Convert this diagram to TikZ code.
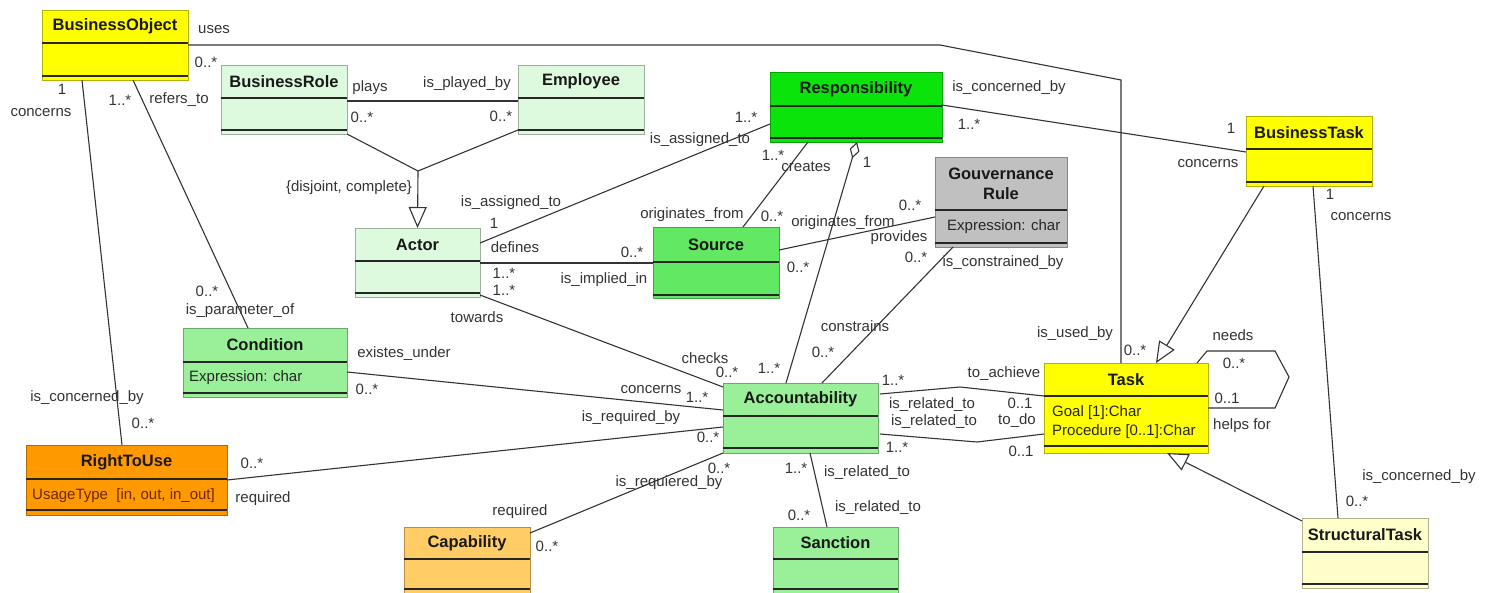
\documentclass[tikz,border=0pt]{standalone}
\usepackage{fontspec}
\setmainfont{Liberation Sans}
\usetikzlibrary{arrows.meta,calc}

\definecolor{clsyellow}{RGB}{255,255,0}
\definecolor{paleyellow}{RGB}{255,255,204}
\definecolor{palegreen}{RGB}{222,250,222}
\definecolor{midgreen}{RGB}{153,240,153}
\definecolor{srcgreen}{RGB}{98,232,98}
\definecolor{respgreen}{RGB}{10,228,10}
\definecolor{govgray}{RGB}{192,192,192}
\definecolor{rtuorange}{RGB}{255,153,0}
\definecolor{caporange}{RGB}{255,204,102}
\definecolor{rtutext}{RGB}{110,40,0}

% class box: name, colour, left, top, right, title line, attribute line, bottom, title
\newcommand{\umlclass}[9]{%
  \node[classbox,fill=#2,draw=#2!70!black,minimum width={#5-#3},minimum height={#8-#4}] (#1) at (#3,#4) {};
  \draw[cmpline] (#3,#6) -- (#5,#6) (#3,#7) -- (#5,#7);
  \node[clstitle] (#1-title) at ({(#3+#5)/2},{(#4+#6)/2}) {#9};}

\begin{document}
\begin{tikzpicture}[x=1pt,y=-1pt,
    classbox/.style={anchor=north west,inner sep=0pt,outer sep=0pt,line width=0.6pt},
    cmpline/.style={black!85,line width=1.2pt},
    clstitle/.style={inner sep=0pt,align=center,text=black!90,font=\fontsize{16.5}{20}\selectfont\bfseries},
    attr/.style={inner sep=0pt,anchor=west,align=left,text=black!85,font=\fontsize{15}{19}\selectfont},
    lbl/.style={inner sep=0pt,text=black!80,font=\fontsize{15}{18}\selectfont},
    assoc/.style={black!80,line width=1.1pt},
    inherit/.style={assoc,-{Triangle[length=21pt,width=18pt,fill=white]}},
    aggr/.style={assoc,-{Diamond[length=17pt,width=10pt,fill=white]}}]
  \useasboundingbox (0,0) rectangle (1491,592);

  % classes
  \umlclass{bo}{clsyellow}{42}{10}{188}{43}{76}{80}{BusinessObject}
  \umlclass{brole}{palegreen}{221}{65}{347}{98}{130}{134}{BusinessRole}
  \umlclass{emp}{palegreen}{518}{65}{644}{98}{130}{134}{Employee}
  \umlclass{resp}{respgreen}{770}{72}{942}{106}{138}{142}{Responsibility}
  \umlclass{gov}{govgray}{935}{157}{1067}{210}{243}{247}{Gouvernance\\Rule}
  \umlclass{actor}{palegreen}{355}{228}{480}{261}{293}{297}{Actor}
  \umlclass{src}{srcgreen}{653}{227}{779}{262}{295}{298}{Source}
  \umlclass{btask}{clsyellow}{1246}{116}{1372}{149}{182}{186}{BusinessTask}
  \umlclass{task}{clsyellow}{1044}{363}{1208}{396}{446}{453}{Task}
  \umlclass{cond}{midgreen}{183}{328}{347}{362}{393}{397}{Condition}
  \umlclass{acc}{midgreen}{723}{383}{878}{416}{448}{453}{Accountability}
  \umlclass{rtu}{rtuorange}{26}{445}{227}{479}{510}{515}{RightToUse}
  \umlclass{cap}{caporange}{404}{527}{530}{559}{589}{594}{Capability}
  \umlclass{san}{midgreen}{773}{527}{898}{559}{589}{594}{Sanction}
  \umlclass{stask}{paleyellow}{1302}{518}{1428}{552}{584}{588}{StructuralTask}

  % attributes
  \node[attr] (gov-attr) at (947,227) {Expression: char};
  \node[attr] (cond-attr) at (189,378) {Expression: char};
  \node[attr,text=rtutext] (rtu-attr) at (32,496) {UsageType\ \ [in, out, in\_out]};
  \node[attr] (task-attr) at (1052,422) {Goal [1]:Char\\Procedure [0..1]:Char};

  % associations
  \draw[assoc] ($(bo.north east)+(0,35)$) -- (940,45) -- (1121,80) -- ($(task.north west)+(77,0)$);
  \draw[assoc] ($(bo.south west)+(40,0)$) -- ($(rtu.north west)+(96,0)$);
  \draw[assoc] ($(bo.south west)+(91,0)$) -- ($(cond.north west)+(65,0)$);
  \draw[assoc] ($(brole.north east)+(0,36)$) -- ($(emp.north west)+(0,36)$);
  \draw[assoc] ($(actor.north east)+(0,15)$) -- ($(resp.south west)+(0,-18)$);
  \draw[assoc] ($(actor.north east)+(0,35)$) -- ($(src.north west)+(0,36)$);
  \draw[assoc] ($(actor.south east)+(0,-2)$) -- ($(acc.north west)+(0,4)$);
  \draw[assoc] ($(src.north west)+(90,0)$) -- ($(resp.south west)+(38,0)$);
  \draw[assoc] ($(src.north east)+(0,23)$) -- ($(gov.north west)+(0,60)$);
  \draw[aggr] ($(acc.north west)+(63,0)$) -- ($(resp.south west)+(87,0)$);
  \draw[assoc] ($(acc.north west)+(99,0)$) -- ($(gov.south west)+(18,0)$);
  \draw[assoc] ($(resp.north east)+(0,33)$) -- ($(btask.north west)+(0,36)$);
  \draw[assoc] ($(btask.south west)+(67,0)$) -- ($(stask.north west)+(36,0)$);
  \draw[assoc] ($(task.north east)+(-11,0)$) -- ++(10,-12) -- ++(68,0) -- ++(14,26) -- ++(-14,31) -- ($(task.north east)+(0,45)$);
  \draw[assoc] ($(acc.north east)+(2,11)$) -- (960,387) -- ($(task.north west)+(0,33)$);
  \draw[assoc] ($(acc.north east)+(2,51)$) -- (977,442) -- ($(task.north west)+(0,71)$);
  \draw[assoc] ($(acc.south west)+(87,0)$) -- ($(san.north west)+(54,0)$);
  \draw[assoc] ($(cond.north east)+(0,44)$) -- ($(acc.north west)+(0,27)$);
  \draw[assoc] ($(rtu.north east)+(0,35)$) -- ($(acc.north west)+(0,44)$);
  \draw[assoc] ($(cap.north east)+(0,6)$) -- (acc.south west);

  % generalisations
  \coordinate (jn) at (418,171);
  \draw[assoc] (brole.south east) -- (jn);
  \draw[assoc] ($(emp.south west)+(0,-4)$) -- (jn);
  \draw[inherit] (jn) -- (actor.north);
  \draw[inherit] ($(btask.south west)+(18,0)$) -- ($(task.north west)+(112,0)$);
  \draw[inherit] ($(stask.north west)+(0,3)$) -- ($(task.south west)+(123,0)$);

  % role names and multiplicities
  \node[lbl] (uses-a) at (214,30) {uses};
  \node[lbl] (uses-b) at (206,62) {0..*};
  \node[lbl] (uses-c) at (1075,334) {is\_used\_by};
  \node[lbl] (uses-d) at (1135,350) {0..*};
  \node[lbl] (bortu-a) at (62,89) {1};
  \node[lbl] (bortu-b) at (41,113) {concerns};
  \node[lbl] (bortu-c) at (87,398) {is\_concerned\_by};
  \node[lbl] (bortu-d) at (143,423) {0..*};
  \node[lbl] (bocond-a) at (120,100) {1..*};
  \node[lbl] (bocond-b) at (179,100) {refers\_to};
  \node[lbl] (bocond-c) at (207,291) {0..*};
  \node[lbl] (bocond-d) at (240,311) {is\_parameter\_of};
  \node[lbl] (plays-a) at (370,88) {plays};
  \node[lbl] (plays-b) at (362,117) {0..*};
  \node[lbl] (plays-c) at (467,84) {is\_played\_by};
  \node[lbl] (plays-d) at (501,116) {0..*};
  \node[lbl] (disj) at (349,188) {\{disjoint, complete\}};
  \node[lbl] (asg-a) at (511,203) {is\_assigned\_to};
  \node[lbl] (asg-b) at (494,223) {1};
  \node[lbl] (asg-c) at (746,117) {1..*};
  \node[lbl] (asg-d) at (700,140) {is\_assigned\_to};
  \node[lbl] (def-a) at (515,247) {defines};
  \node[lbl] (def-b) at (504,273) {1..*};
  \node[lbl] (def-c) at (632,252) {0..*};
  \node[lbl] (def-d) at (604,280) {is\_implied\_in};
  \node[lbl] (chk-a) at (504,290) {1..*};
  \node[lbl] (chk-b) at (477,317) {towards};
  \node[lbl] (chk-c) at (705,358) {checks};
  \node[lbl] (chk-d) at (727,372) {0..*};
  \node[lbl] (cre-a) at (692,215) {originates\_from};
  \node[lbl] (cre-b) at (772,216) {0..*};
  \node[lbl] (cre-c) at (773,155) {1..*};
  \node[lbl] (cre-d) at (806,167) {creates};
  \node[lbl] (prov-a) at (843,223) {originates\_from};
  \node[lbl] (prov-b) at (899,238) {provides};
  \node[lbl] (prov-c) at (910,205) {0..*};
  \node[lbl] (prov-d) at (798,267) {0..*};
  \node[lbl] (agg-a) at (867,162) {1};
  \node[lbl] (agg-b) at (769,368) {1..*};
  \node[lbl] (cns-a) at (916,257) {0..*};
  \node[lbl] (cns-b) at (1003,263) {is\_constrained\_by};
  \node[lbl] (cns-c) at (855,326) {constrains};
  \node[lbl] (cns-d) at (823,352) {0..*};
  \node[lbl] (rbt-a) at (1009,88) {is\_concerned\_by};
  \node[lbl] (rbt-b) at (969,124) {1..*};
  \node[lbl] (rbt-c) at (1231,128) {1};
  \node[lbl] (rbt-d) at (1208,164) {concerns};
  \node[lbl] (bst-a) at (1330,194) {1};
  \node[lbl] (bst-b) at (1361,217) {concerns};
  \node[lbl] (bst-c) at (1419,477) {is\_concerned\_by};
  \node[lbl] (bst-d) at (1357,501) {0..*};
  \node[lbl] (need-a) at (1233,335) {needs};
  \node[lbl] (need-b) at (1234,363) {0..*};
  \node[lbl] (need-c) at (1227,398) {0..1};
  \node[lbl] (need-d) at (1242,426) {helps for};
  \node[lbl] (ach-a) at (893,380) {1..*};
  \node[lbl] (ach-b) at (1004,374) {to\_achieve};
  \node[lbl] (ach-c) at (932,405) {is\_related\_to};
  \node[lbl] (ach-d) at (1020,403) {0..1};
  \node[lbl] (todo-a) at (934,422) {is\_related\_to};
  \node[lbl] (todo-b) at (1017,421) {to\_do};
  \node[lbl] (todo-c) at (897,447) {1..*};
  \node[lbl] (todo-d) at (1021,451) {0..1};
  \node[lbl] (san-a) at (796,468) {1..*};
  \node[lbl] (san-b) at (867,473) {is\_related\_to};
  \node[lbl] (san-c) at (799,515) {0..*};
  \node[lbl] (san-d) at (878,508) {is\_related\_to};
  \node[lbl] (exu-a) at (404,354) {existes\_under};
  \node[lbl] (exu-b) at (367,389) {0..*};
  \node[lbl] (exu-c) at (651,390) {concerns};
  \node[lbl] (exu-d) at (697,397) {1..*};
  \node[lbl] (req-a) at (252,463) {0..*};
  \node[lbl] (req-b) at (263,499) {required};
  \node[lbl] (req-c) at (631,418) {is\_required\_by};
  \node[lbl] (req-d) at (708,437) {0..*};
  \node[lbl] (cap-a) at (520,512) {required};
  \node[lbl] (cap-b) at (547,546) {0..*};
  \node[lbl] (cap-c) at (719,468) {0..*};
  \node[lbl] (cap-d) at (669,483) {is\_requiered\_by};
\end{tikzpicture}
\end{document}
